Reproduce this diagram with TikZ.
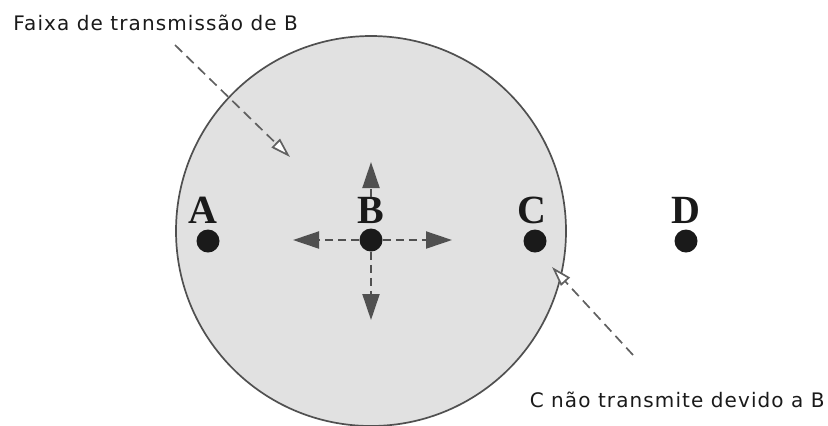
\documentclass[tikz,border=0pt]{standalone}
\usepackage{fontspec}
\setmainfont{Liberation Serif}
\newfontfamily\notefont[LetterSpace=5.5]{DejaVu Sans}
\usetikzlibrary{arrows.meta,positioning}
\definecolor{rangefill}{HTML}{E1E1E1}
\definecolor{rangeline}{HTML}{505050}
\definecolor{flowgray}{HTML}{505050}
\definecolor{notegray}{HTML}{606060}
\definecolor{ink}{HTML}{1A1A1A}
\tikzset{
  txrange/.style={draw=rangeline, fill=rangefill, line width=.85pt},
  station/.style={circle, fill=ink, minimum size=11.5pt, inner sep=0pt},
  stalabel/.style={font=\bfseries\fontsize{20}{20}\selectfont, inner sep=0pt, text=ink},
  note/.style={font=\notefont\fontsize{10}{12}\selectfont, text=ink, inner sep=0pt},
  bflow/.style={-{Triangle[length=13pt,width=8.5pt]}, dash pattern=on 4pt off 2.5pt, line width=1pt, color=flowgray},
  pointer/.style={-{Triangle[open,fill=white,length=10pt,width=6pt]}, dash pattern=on 5pt off 3pt, line width=.85pt, color=notegray}
}
\begin{document}
\begin{tikzpicture}[x=.5pt,y=-.5pt]
  \useasboundingbox (0,0) rectangle (828,425);
  % transmission range of B
  \draw[txrange] (371,231) circle[radius=97.5pt];

  % stations
  \node[station] (Adot) at (208,241) {};
  \node[station] (Bdot) at (371,240) {};
  \node[station] (Cdot) at (535,241) {};
  \node[station] (Ddot) at (686,241) {};
  \node[stalabel, above=2.5pt of Adot, xshift=-2.5pt] (Alabel) {A};
  \node[stalabel, above=2.25pt of Bdot] (Blabel) {B};
  \node[stalabel, above=2.5pt of Cdot, xshift=-1.5pt] (Clabel) {C};
  \node[stalabel, above=2.5pt of Ddot] (Dlabel) {D};

  % B sends in every direction
  \coordinate (Bup) at (371,162);
  \coordinate (Bdown) at (371,320);
  \coordinate (Bleft) at (293,240);
  \coordinate (Bright) at (452,240);
  \draw[bflow] (Blabel.north) -- (Bup);
  \draw[bflow] (Bdot) -- (Bdown);
  \draw[bflow] (Bdot) -- (Bleft);
  \draw[bflow] (Bdot) -- (Bright);

  % notes
  \node[note, anchor=west] (rangenote) at (13,23) {Faixa de transmissão de B};
  \coordinate (rangetail) at (175,45);
  \coordinate (rangetip) at (290,157);
  \draw[pointer] (rangetail) -- (rangetip);

  \node[note, anchor=east] (blocknote) at (825,400) {C não transmite devido a B};
  \coordinate (blocktail) at (633,355);
  \coordinate (blocktip) at (552,267);
  \draw[pointer] (blocktail) -- (blocktip);
\end{tikzpicture}
\end{document}
